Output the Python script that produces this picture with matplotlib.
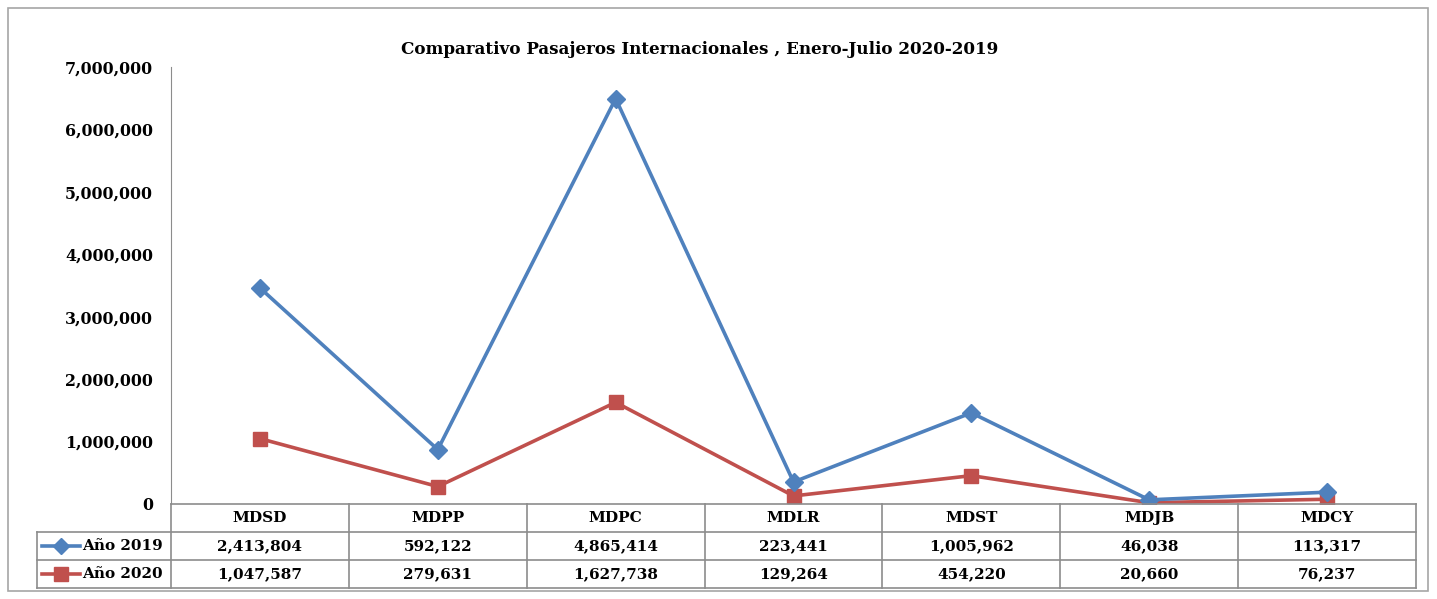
import matplotlib
matplotlib.use("Agg")
import matplotlib.pyplot as plt
from matplotlib.patches import Rectangle
from matplotlib.ticker import FuncFormatter

categories = ["MDSD", "MDPP", "MDPC", "MDLR", "MDST", "MDJB", "MDCY"]
v2019 = [2413804, 592122, 4865414, 223441, 1005962, 46038, 113317]
v2020 = [1047587, 279631, 1627738, 129264, 454220, 20660, 76237]
series_names = ["Año 2019", "Año 2020"]
title = "Comparativo Pasajeros Internacionales , Enero-Julio 2020-2019"

BLUE = "#4F81BD"
RED = "#C0504D"
GRID = "#8C8C8C"
FONT = "DejaVu Serif"
FS = 11

W, H = 1437, 599
fig = plt.figure(figsize=(W / 100, H / 100), dpi=100)

def fx(px):
    return px / W

def fy(py):
    return 1 - py / H

# outer border
fig.patches.append(Rectangle((fx(8), fy(591)), fx(1428) - fx(8), fy(8) - fy(591),
                             transform=fig.transFigure, fill=False, edgecolor="#A6A6A6", lw=1.2))

x0, x1 = 171, 1416
ytop, ybot = 67, 504
ax = fig.add_axes([fx(x0), fy(ybot), fx(x1) - fx(x0), fy(ytop) - fy(ybot)])
n = len(categories)
xs = [i + 0.5 for i in range(n)]
stack2019 = [a + b for a, b in zip(v2019, v2020)]
ax.plot(xs, stack2019, color=BLUE, lw=2.6, marker="D", ms=9.5, zorder=3)
ax.plot(xs, v2020, color=RED, lw=2.6, marker="s", ms=10, zorder=2)
ax.set_xlim(0, n)
ax.set_ylim(0, 7000000)
ax.set_yticks(range(0, 7000001, 1000000))
ax.yaxis.set_major_formatter(FuncFormatter(lambda v, p: f"{int(v):,}"))
ax.set_xticks([])
for s in ["top", "right", "bottom"]:
    ax.spines[s].set_visible(False)
ax.spines["left"].set_color(GRID)
ax.tick_params(axis="y", length=0, pad=13)
for lab in ax.get_yticklabels():
    lab.set_fontfamily(FONT)
    lab.set_fontweight("bold")
    lab.set_fontsize(11.4)
ax.patch.set_alpha(0)

fig.text(fx(700), fy(50), title, ha="center", va="center", fontfamily=FONT,
         fontweight="bold", fontsize=12.1)

# data table
tleft = 37
unit = (x1 - x0) / n
tx0 = (tleft - x0) / unit
tab = fig.add_axes([fx(tleft), fy(588), fx(x1) - fx(tleft), fy(504) - fy(588)])
tab.set_xlim(tx0, n)
tab.set_ylim(0, 3)
tab.axis("off")
lc = GRID
lw = 1.2
tab.plot([0, n], [3, 3], color=lc, lw=lw, clip_on=False)
tab.plot([tx0, n], [2, 2], color=lc, lw=lw, clip_on=False)
tab.plot([tx0, n], [1, 1], color=lc, lw=lw, clip_on=False)
tab.plot([tx0, n], [0, 0], color=lc, lw=lw, clip_on=False)
tab.plot([tx0, tx0], [0, 2], color=lc, lw=lw, clip_on=False)
for i in range(n + 1):
    tab.plot([i, i], [0, 3], color=lc, lw=lw, clip_on=False)
for i, c in enumerate(categories):
    tab.text(i + 0.5, 2.5, c, ha="center", va="center", fontfamily=FONT,
             fontweight="bold", fontsize=FS)
    tab.text(i + 0.5, 1.5, f"{v2019[i]:,}", ha="center", va="center", fontfamily=FONT,
             fontweight="bold", fontsize=FS)
    tab.text(i + 0.5, 0.5, f"{v2020[i]:,}", ha="center", va="center", fontfamily=FONT,
             fontweight="bold", fontsize=FS)
for row, name, col, mk, ms in [(1.5, series_names[0], BLUE, "D", 8), (0.5, series_names[1], RED, "s", 10)]:
    ka = tx0 + 5 / unit
    kb = tx0 + 43 / unit
    tab.plot([ka, kb], [row, row], color=col, lw=2.6, clip_on=False)
    tab.plot([(ka + kb) / 2], [row], color=col, marker=mk, ms=ms, clip_on=False)
    tab.text(kb + 2 / unit, row, name, ha="left", va="center", fontfamily=FONT,
             fontweight="bold", fontsize=FS)

fig.savefig("out.png", dpi=100)
